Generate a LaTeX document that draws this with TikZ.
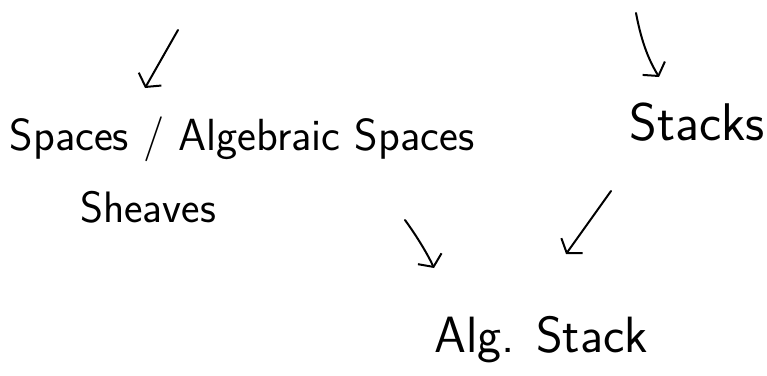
\documentclass[tikz,border=0pt]{standalone}
\usetikzlibrary{arrows.meta}
\begin{document}
\begin{tikzpicture}[x=1pt,y=-1pt,
  lbl/.style={font=\sffamily\fontsize{#1}{#1}\selectfont, inner sep=0pt, anchor=base},
  hand/.style={line width=2pt, line cap=round, line join=round,
    -{Straight Barb[length=9pt,width=26pt,line width=2pt]}}]
\useasboundingbox (0,0) rectangle (767,375);
\node[lbl=45] (spaces) at (242,150) {Spaces / Algebraic Spaces};
\node[lbl=44] (sheaves) at (148,222) {Sheaves};
\node[lbl=53] (stacks) at (697,140) {Stacks};
\node[lbl=51] (algstack) at (541,352) {Alg. Stack};
\coordinate (a1s) at (178,30);
\coordinate (a1e) at (145,88);
\coordinate (a2s) at (636,13);
\coordinate (a2e) at (659,77);
\coordinate (a3s) at (405,220);
\coordinate (a3e) at (434,268);
\coordinate (a4s) at (611,191);
\coordinate (a4e) at (566,254);
\draw[hand] (a1s) -- (a1e);
\draw[hand] (a2s) .. controls (642,45) and (650,62) .. (a2e);
\draw[hand] (a3s) .. controls (418,238) and (428,255) .. (a3e);
\draw[hand] (a4s) -- (a4e);
\end{tikzpicture}
\end{document}
